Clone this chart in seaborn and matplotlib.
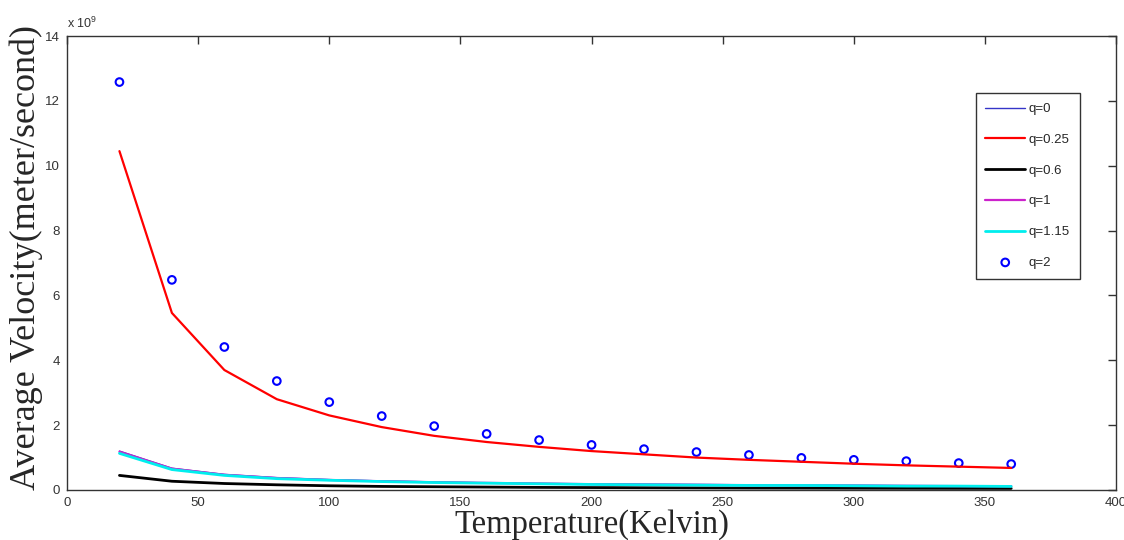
import numpy as np
import pandas as pd
import matplotlib
matplotlib.use("Agg")
import matplotlib.pyplot as plt
import seaborn as sns
from matplotlib.ticker import FuncFormatter

# ---------------------------------------------------------------------------
# Data (velocity in units of 1e9 m/s)
# ---------------------------------------------------------------------------
temperature = [20, 40, 60, 80, 100, 120, 140, 160, 180, 200,
               220, 240, 260, 280, 300, 320, 340, 360]

v_q0 = [1.20, 0.67, 0.48, 0.38, 0.32, 0.28, 0.25, 0.22, 0.20, 0.19,
        0.18, 0.17, 0.16, 0.15, 0.14, 0.13, 0.13, 0.12]
v_q025 = [10.45, 5.46, 3.70, 2.80, 2.30, 1.94, 1.67, 1.48, 1.33, 1.20,
          1.10, 1.00, 0.93, 0.87, 0.81, 0.76, 0.72, 0.68]
v_q06 = [0.45, 0.27, 0.20, 0.16, 0.13, 0.11, 0.10, 0.09, 0.08, 0.075,
         0.07, 0.065, 0.06, 0.058, 0.055, 0.052, 0.05, 0.048]
v_q1 = [1.18, 0.66, 0.47, 0.37, 0.31, 0.27, 0.24, 0.22, 0.20, 0.18,
        0.17, 0.16, 0.15, 0.14, 0.14, 0.13, 0.12, 0.12]
v_q115 = [1.13, 0.63, 0.45, 0.35, 0.30, 0.26, 0.23, 0.21, 0.19, 0.17,
          0.16, 0.15, 0.14, 0.14, 0.13, 0.12, 0.12, 0.11]
v_q2 = [12.58, 6.48, 4.41, 3.36, 2.71, 2.28, 1.97, 1.73, 1.54, 1.39,
        1.26, 1.17, 1.08, 0.99, 0.93, 0.89, 0.83, 0.80]

line_series = [
    ("q=0", v_q0, "#3535c8", 1.0),
    ("q=0.25", v_q025, "#ff0000", 1.6),
    ("q=0.6", v_q06, "#000000", 2.0),
    ("q=1", v_q1, "#cc22cc", 1.6),
    ("q=1.15", v_q115, "#00eeee", 2.0),
]

# ---------------------------------------------------------------------------
# Plot
# ---------------------------------------------------------------------------
sns.set_style("white")
plt.rcParams["font.family"] = ["Liberation Sans", "DejaVu Sans"]
plt.rcParams["mathtext.fontset"] = "custom"
plt.rcParams["mathtext.rm"] = "Liberation Sans"

fig = plt.figure(figsize=(11.24, 5.4), dpi=100)
ax = fig.add_axes([0.0596, 0.0926, 0.9334, 0.8407])

for label, vals, color, lw in line_series:
    sns.lineplot(x=temperature, y=np.array(vals) * 1e9, color=color,
                 linewidth=lw, label=label, ax=ax)

sns.scatterplot(x=temperature, y=np.array(v_q2) * 1e9, marker="o", s=30,
                facecolors="none", edgecolor="#0000ff", linewidth=1.5,
                label="q=2", ax=ax)

ax.set_xlim(0, 400)
ax.set_ylim(0, 14e9)
ax.set_xticks(np.arange(0, 401, 50))
ax.set_yticks(np.arange(0, 14.1e9, 2e9))
ax.yaxis.set_major_formatter(FuncFormatter(lambda v, _: f"{v / 1e9:g}"))
ax.text(0.0, 1.012, r"x 10$^{\mathregular{9}}$", transform=ax.transAxes,
        fontsize=9, color="#333333", ha="left", va="bottom")

ax.tick_params(direction="in", length=6, width=1, top=True, right=True,
               labelsize=9.5, colors="#333333", labelcolor="#333333", pad=5)
for sp in ax.spines.values():
    sp.set_color("#333333")
    sp.set_linewidth(1.0)

ax.set_xlabel("Temperature(Kelvin)", fontsize=23.5, family="Liberation Serif",
              labelpad=0)
ax.set_ylabel("Average Velocity(meter/second)", fontsize=26,
              family="Liberation Serif")
ax.yaxis.set_label_coords(-0.023, 0.513)

leg = ax.legend(loc="upper left", bbox_to_anchor=(0.866, 0.874),
                fontsize=9.5, frameon=True, fancybox=False, framealpha=1,
                edgecolor="#333333", labelspacing=1.4, handlelength=3.0,
                handletextpad=0.3, borderpad=0.75, borderaxespad=0)
leg.get_frame().set_linewidth(1.0)

fig.savefig("out.png", dpi=100)
